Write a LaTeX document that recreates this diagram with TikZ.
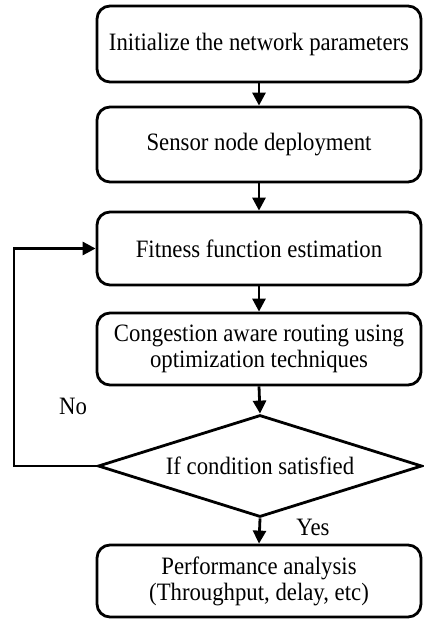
\documentclass[tikz,border=0pt]{standalone}
\usepackage{fontspec}
\setmainfont[FakeStretch=0.91]{Liberation Serif}
\usetikzlibrary{shapes.geometric,arrows.meta}
\begin{document}
\begin{tikzpicture}[x=1pt,y=-1pt,
  txt/.style={font=\fontsize{25}{26}\selectfont},
  box/.style={draw,line width=2.8pt,rounded corners=13pt,minimum width=324pt,inner sep=0pt,align=center,txt},
  dec/.style={draw,line width=2.8pt,diamond,aspect=3.18,minimum width=324pt,minimum height=102pt,inner sep=0pt,align=center,txt},
  arr/.style={line width=2.8pt,-{Triangle[width=13pt,length=13pt]}},
  lbl/.style={txt,inner sep=0pt}]
\useasboundingbox (0,0) rectangle (423,620);
\node[box,minimum height=76pt] (b1) at (259,44) {Initialize the network parameters};
\node[box,minimum height=75pt] (b2) at (259,144.5) {Sensor node deployment};
\node[box,minimum height=73pt] (b3) at (259,248.5) {Fitness function estimation};
\node[box,minimum height=72pt] (b4) at (259,349) {Congestion aware routing using\\optimization techniques};
\node[dec] (d) at (260,466) {If condition satisfied};
\node[box,minimum height=72pt] (b5) at (259,581) {Performance analysis\\(Throughput, delay, etc)};
\draw[arr] (b1.south) -- (b2.north);
\draw[arr] (b2.south) -- (b3.north);
\draw[arr] (b3.south) -- (b4.north);
\draw[arr] (b4.south) -- (d.north);
\draw[arr] (d.south) -- (b5.north);
\coordinate (c1) at (14,466);
\draw[arr] (d.west) -- (c1) |- (b3.west);
\node[lbl] (no) at (73,406) {No};
\node[lbl] (yes) at (313,527) {Yes};
\end{tikzpicture}
\end{document}
